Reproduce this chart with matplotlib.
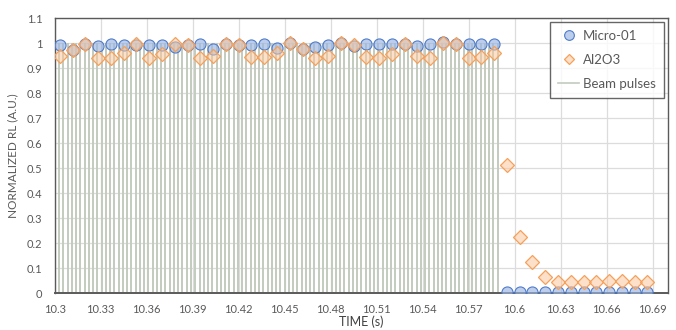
import numpy as np
import matplotlib.pyplot as plt

plt.rcParams['font.family'] = ['Lato', 'DejaVu Sans']

# readout times (120 Hz) and beam pulse times (360 Hz)
t_read = 10.3033 + np.arange(47) / 120.0
t_pulse = 10.3 + np.arange(105) / 360.0
pulse_height = np.ones(len(t_pulse))

micro01 = [0.993, 0.973, 0.996, 0.990, 0.996, 0.991, 0.993, 0.991, 0.993, 0.984,
           0.991, 0.998, 0.976, 0.998, 0.993, 0.994, 0.996, 0.981, 1.000, 0.975,
           0.984, 0.991, 1.002, 0.989, 0.998, 0.996, 0.996, 0.997, 0.988, 0.997,
           1.003, 0.995, 0.997, 0.997, 0.997,
           0.003, 0.003, 0.003, 0.003, 0.003, 0.003, 0.003, 0.003, 0.003, 0.003,
           0.003, 0.003]
al2o3 = [0.950, 0.974, 0.995, 0.941, 0.939, 0.962, 0.995, 0.940, 0.955, 0.996,
         0.991, 0.940, 0.948, 0.998, 0.993, 0.945, 0.946, 0.962, 0.999, 0.975,
         0.940, 0.948, 1.000, 0.993, 0.943, 0.939, 0.955, 0.997, 0.948, 0.941,
         0.999, 0.995, 0.941, 0.945, 0.961,
         0.512, 0.225, 0.125, 0.063, 0.045, 0.043, 0.045, 0.043, 0.048, 0.048,
         0.045, 0.045]

xticks = [10.3, 10.33, 10.36, 10.39, 10.42, 10.45, 10.48, 10.51, 10.54, 10.57,
          10.6, 10.63, 10.66, 10.69]
yticks = [0, 0.1, 0.2, 0.3, 0.4, 0.5, 0.6, 0.7, 0.8, 0.9, 1, 1.1]

blue_fill = (0.60, 0.71, 0.89, 0.65)
orange_fill = (0.98, 0.78, 0.62, 0.55)
pulse_col = '#c3cbbe'

fig = plt.figure(figsize=(6.76, 3.30), dpi=100)
ax = fig.add_axes([0.081, 0.112, 0.907, 0.833])

ax.vlines(t_pulse, 0, pulse_height, color=pulse_col, lw=1.4, zorder=2)
ax.plot(t_read, micro01, 'o', ms=8, mfc=blue_fill, mec='#4f7cc9',
        mew=0.8, zorder=3)
ax.plot(t_read, al2o3, 'D', ms=7, mfc=orange_fill, mec='#f5a05a',
        mew=0.9, zorder=4)

ax.set_xlim(10.3, 10.7)
ax.set_ylim(0, 1.1)
ax.set_xticks(xticks)
ax.set_xticklabels([f'{v:g}' for v in xticks])
ax.set_yticks(yticks)
ax.set_yticklabels([f'{v:g}' for v in yticks])
ax.grid(True, color='#dcdcdc', lw=0.9, zorder=0)
ax.set_axisbelow(True)
ax.tick_params(length=0, labelsize=8, labelcolor='#595959')
ax.tick_params(axis='x', pad=8)
ax.tick_params(axis='y', pad=9)
for s in ax.spines.values():
    s.set_color('#5a5a5a')
    s.set_linewidth(1.0)
ax.spines['bottom'].set_linewidth(1.4)

ax.set_xlabel('TIME (s)', fontsize=9, color='#404040', labelpad=0)
ax.set_ylabel('NORMALIZED RL (A.U.)', fontsize=8.5, color='#595959', labelpad=6)

h1, = ax.plot([], [], 'o', ms=7, mfc=blue_fill, mec='#4f7cc9', mew=0.8)
h2, = ax.plot([], [], 'D', ms=5.5, mfc=orange_fill, mec='#f5a05a', mew=0.9)
h3, = ax.plot([], [], '-', color=pulse_col, lw=1.2)
leg = ax.legend([h1, h2, h3], ['Micro-01', 'Al2O3', 'Beam pulses'],
                loc='upper right', fontsize=9.5, frameon=True, fancybox=False,
                borderaxespad=0.3, labelspacing=0.9, handlelength=1.6,
                handletextpad=0.3, borderpad=0.6, labelcolor='#595959')
leg.get_frame().set_edgecolor('#404040')
leg.get_frame().set_linewidth(1.0)

fig.savefig('out.png', dpi=100)
